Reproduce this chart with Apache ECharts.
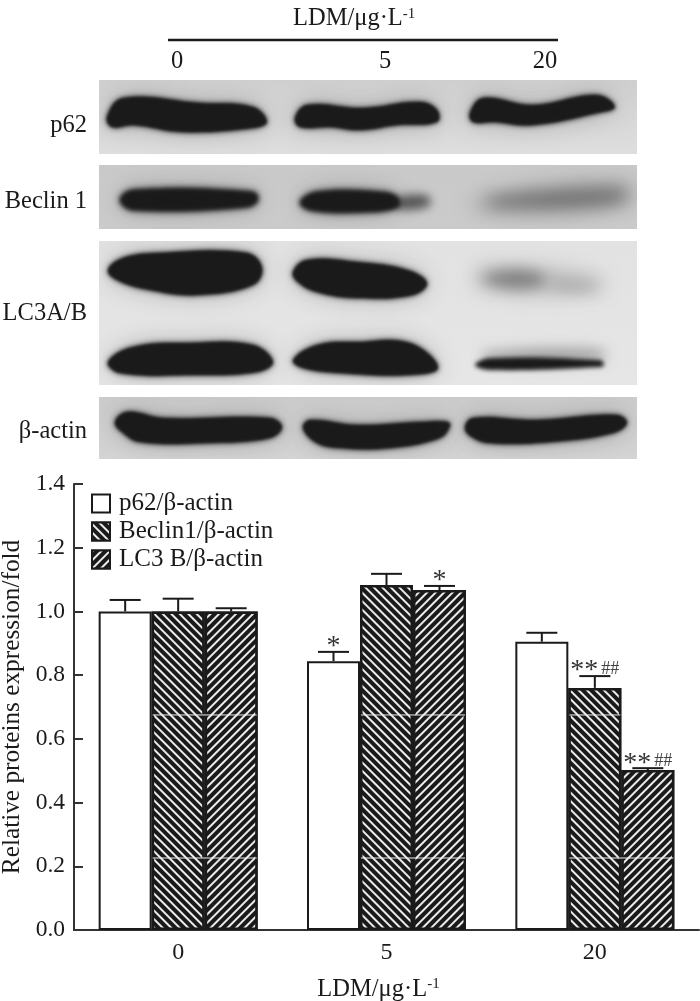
<!DOCTYPE html>
<html>
<head>
<meta charset="utf-8">
<style>
  html, body { margin: 0; padding: 0; background: #fff; }
  #mainChart { width: 700px; height: 1001px; }
</style>
<script src="https://cdn.jsdelivr.net/npm/echarts@6/dist/echarts.min.js"></script>
</head>
<body>
<div id="mainChart"></div>
<script>
const categories = ['0', '5', '20'];
const seriesNames = ['p62/β-actin', 'Beclin1/β-actin', 'LC3 B/β-actin'];
const p62Values = [1.0, 0.844, 0.905];
const beclinValues = [1.0, 1.083, 0.76];
const lc3Values = [1.0, 1.067, 0.502];
const p62ErrTop = [1.036, 0.873, 0.933];
const beclinErrTop = [1.04, 1.118, 0.797];
const lc3ErrTop = [1.01, 1.08, 0.508];
const p62Marks = ['', '*', ''];
const beclinMarks = ['', '', '**##'];
const lc3Marks = ['', '*', '**##'];
// the thin white seams running across the hatched bars: category, first bar, last bar, value
const seamRows = [
  [0, 1, 2, 0.675], [0, 1, 2, 0.226],
  [1, 1, 2, 0.675], [1, 1, 2, 0.226],
  [2, 1, 1, 0.675], [2, 1, 2, 0.226]
];

const FONT = '"Liberation Serif", "Times New Roman", serif';
const INK = '#1a1a1a';
const BAR_W = 53;
const OFF = 3000; // blot shapes sit off canvas, only their blurred shadow lands on it

const values = [p62Values, beclinValues, lc3Values];
const errTops = [p62ErrTop, beclinErrTop, lc3ErrTop];
const marks = [p62Marks, beclinMarks, lc3Marks];

function hatch(rotation) {
  return {
    symbol: 'rect',
    symbolSize: 1,
    dashArrayX: [1, 0],
    dashArrayY: [2, 4],
    rotation: rotation,
    color: '#ececec'
  };
}

// the blot panels are a photograph in the original, so they are only painted here
function panel(x, y, w, h, top, bottom) {
  return {
    type: 'rect', silent: true, z: 1,
    shape: { x: x, y: y, width: w, height: h },
    style: {
      fill: new echarts.graphic.LinearGradient(0, 0, 0, 1, [
        { offset: 0, color: top }, { offset: 1, color: bottom }
      ])
    }
  };
}
function blurred(points, color, blur) {
  return {
    type: 'polygon', silent: true, z: 2,
    shape: { points: points.map(function (p) { return [p[0] - OFF, p[1]]; }), smooth: 0.4 },
    style: { fill: '#000', shadowColor: color, shadowBlur: blur, shadowOffsetX: OFF }
  };
}
function band(points, color, blur) {
  return [
    blurred(points, 'rgba(40,40,40,0.28)', 26),
    blurred(points, color || INK, blur || 6),
    blurred(points, color || INK, (blur || 6) / 2)
  ];
}
// keeps the blur inside the panels
function mask(x, y, w, h) {
  return {
    type: 'rect', silent: true, z: 3,
    shape: { x: x, y: y, width: w, height: h },
    style: { fill: '#fff' }
  };
}
function label(text, x, y, align) {
  return {
    type: 'text', silent: true, z: 4, x: x, y: y,
    style: {
      text: text, fill: INK, align: align, verticalAlign: 'middle',
      font: '24.5px ' + FONT
    }
  };
}

const blots = [].concat(
  panel(99, 80, 538, 74, '#cfcfcf', '#dedede'),
  panel(99, 165, 538, 64, '#c9c9c9', '#cbcbcb'),
  panel(99, 241, 538, 144, '#e2e2e2', '#e6e6e6'),
  panel(99, 397, 538, 62, '#cbcbcb', '#d4d4d4'),

  // p62
  band([[107,117],[123,98],[200,103],[253,107],[267,122],[253,128],[183,132],[133,125],[112,127]]),
  band([[295,118],[307,105],[363,108],[420,102],[437,110],[437,122],[397,125],[360,130],[330,127],[300,127]]),
  band([[470,113],[483,98],[533,105],[597,95],[615,107],[597,113],[533,125],[493,122],[473,122]]),

  // Beclin 1
  band([[120,200],[133,190],[253,192],[258,200],[247,207],[133,210]], INK, 9),
  blurred([[397,198],[425,195],[431,203],[420,209],[397,208]], '#555', 10),
  band([[300,202],[317,192],[380,192],[397,197],[398,207],[363,212],[310,210]], INK, 9),
  blurred([[483,202],[513,195],[613,189],[627,193],[613,203],[513,207]], 'rgba(110,110,110,0.9)', 16),
  blurred([[470,205],[513,190],[630,183],[630,205],[513,215]], 'rgba(90,90,90,0.35)', 22),

  // LC3A/B upper
  band([[108,270],[123,258],[157,253],[247,253],[262,268],[253,285],[197,295],[150,290],[117,280]]),
  band([[293,272],[307,260],[357,262],[407,270],[427,283],[413,295],[357,298],[317,292],[298,282]]),
  blurred([[480,266],[600,276],[600,292],[480,290]], 'rgba(150,150,150,0.45)', 20),
  blurred([[482,278],[515,270],[545,276],[545,284],[510,288]], '#808080', 14),
  blurred([[545,280],[590,282],[598,288],[560,290]], '#adadad', 14),

  // LC3A/B lower
  band([[108,362],[133,347],[190,343],[253,345],[273,362],[257,372],[190,375],[120,373]]),
  band([[293,360],[317,345],[357,342],[410,343],[438,368],[407,375],[340,373],[303,368]]),
  blurred([[485,353],[600,350],[604,360],[485,362]], 'rgba(120,120,120,0.7)', 14),
  blurred([[475,365],[490,358],[600,360],[604,365],[600,367],[490,370]], INK, 4),

  // β-actin
  band([[115,422],[127,412],[163,418],[270,418],[282,427],[270,438],[207,443],[140,442],[122,432]]),
  band([[303,428],[310,420],[357,425],[423,422],[448,422],[450,426],[440,438],[390,448],[340,448],[317,443]]),
  band([[465,428],[473,418],[537,420],[617,415],[627,423],[613,433],[550,442],[490,443],[472,437]]),

  mask(0, 60, 99, 410),
  mask(637, 60, 63, 410),
  mask(99, 60, 538, 20),
  mask(99, 154, 538, 11),
  mask(99, 229, 538, 12),
  mask(99, 385, 538, 12),
  mask(99, 459, 538, 15),

  // header above the blots
  {
    type: 'line', silent: true, z: 4,
    shape: { x1: 168, y1: 40, x2: 558, y2: 40 },
    style: { stroke: INK, lineWidth: 2.5 }
  },
  {
    type: 'text', silent: true, z: 4, x: 293, y: 19,
    style: {
      text: 'LDM/μg·L{sup|-1}', fill: INK, align: 'left', verticalAlign: 'middle',
      font: '24.5px ' + FONT,
      rich: { sup: { font: '15px ' + FONT, fill: INK, verticalAlign: 'top', padding: [0, 0, 10, 0] } }
    }
  },
  label('0', 177, 62, 'center'),
  label('5', 385, 62, 'center'),
  label('20', 545, 62, 'center'),

  label('p62', 87, 126, 'right'),
  label('Beclin 1', 87, 202, 'right'),
  label('LC3A/B', 87, 314, 'right'),
  label('β-actin', 87, 432, 'right')
);

const errData = [];
const markData = [];
values.forEach(function (row, s) {
  row.forEach(function (v, c) {
    errData.push([c, s, v, errTops[s][c]]);
    if (marks[s][c]) markData.push([c, s, errTops[s][c], marks[s][c]]);
  });
});

const chart = echarts.init(document.getElementById('mainChart'));
const option = {
  animation: false,
  textStyle: { fontFamily: FONT },
  graphic: { elements: blots },
  grid: { left: 74, top: 484, width: 625, height: 446, outerBoundsMode: 'none' },
  legend: {
    data: seriesNames,
    orient: 'vertical',
    left: 91,
    top: 491,
    padding: 0,
    icon: 'rect',
    itemWidth: 18,
    itemHeight: 18,
    itemGap: 3,
    itemStyle: { borderColor: INK, borderWidth: 2 },
    textStyle: { fontFamily: FONT, fontSize: 25, color: INK, padding: [0, 0, 0, 4] }
  },
  xAxis: {
    type: 'category',
    data: categories,
    name: 'LDM/μg·L{sup|-1}',
    nameLocation: 'middle',
    nameGap: 47,
    nameTextStyle: {
      fontFamily: FONT, fontSize: 24.5, color: INK, padding: [0, 16, 0, 0],
      rich: { sup: { fontFamily: FONT, fontSize: 15, color: INK, padding: [0, 0, 10, 0] } }
    },
    axisLine: { lineStyle: { color: '#333', width: 2 } },
    axisTick: { show: false },
    axisLabel: { fontFamily: FONT, fontSize: 24, color: INK, margin: 11 }
  },
  yAxis: {
    type: 'value',
    min: 0,
    max: 1.4,
    interval: 0.2,
    name: 'Relative proteins expression/fold',
    nameLocation: 'middle',
    nameGap: 44,
    nameTextStyle: { fontFamily: FONT, fontSize: 25.3, color: INK },
    axisLine: { show: true, lineStyle: { color: '#333', width: 2 } },
    axisTick: { show: true, inside: true, length: 9, lineStyle: { color: '#333', width: 2 } },
    axisLabel: {
      fontFamily: FONT, fontSize: 23.5, color: INK, margin: 9,
      formatter: function (v) { return v.toFixed(1); }
    },
    splitLine: { show: false }
  },
  series: [
    {
      name: seriesNames[0], type: 'bar', data: p62Values, barWidth: BAR_W, barGap: 0,
      itemStyle: { color: '#fff', borderColor: INK, borderWidth: 2 }
    },
    {
      name: seriesNames[1], type: 'bar', data: beclinValues, barWidth: BAR_W, barGap: 0,
      itemStyle: { color: INK, borderColor: INK, borderWidth: 2.5, decal: hatch(Math.PI / 4) }
    },
    {
      name: seriesNames[2], type: 'bar', data: lc3Values, barWidth: BAR_W, barGap: 0,
      itemStyle: { color: INK, borderColor: INK, borderWidth: 2.5, decal: hatch(-Math.PI / 4) }
    },
    {
      // error bars, only the upper half is drawn
      type: 'custom', data: errData, z: 5, silent: true,
      renderItem: function (params, api) {
        const base = api.coord([api.value(0), api.value(2)]);
        const top = api.coord([api.value(0), api.value(3)]);
        const x = base[0] + (api.value(1) - 1) * BAR_W;
        const line = { stroke: INK, lineWidth: 2 };
        return {
          type: 'group',
          children: [
            { type: 'line', shape: { x1: x, y1: base[1], x2: x, y2: top[1] }, style: line },
            { type: 'line', shape: { x1: x - 15.5, y1: top[1], x2: x + 15.5, y2: top[1] }, style: line }
          ]
        };
      }
    },
    {
      type: 'custom', data: seamRows, z: 6, silent: true,
      renderItem: function (params, api) {
        const p = api.coord([api.value(0), api.value(3)]);
        const x1 = p[0] + (api.value(1) - 1.5) * BAR_W + 1;
        const x2 = p[0] + (api.value(2) - 0.5) * BAR_W - 1;
        return {
          type: 'line',
          shape: { x1: x1, y1: p[1], x2: x2, y2: p[1] },
          style: { stroke: '#eee', lineWidth: 1 }
        };
      }
    },
    {
      // significance marks over the error bars
      type: 'custom', data: markData, z: 7, silent: true,
      renderItem: function (params, api) {
        const p = api.coord([api.value(0), api.value(2)]);
        const mark = markData[params.dataIndex][3];
        const stars = mark.replace(/#/g, '');
        const hashes = mark.replace(/\*/g, '');
        return {
          type: 'text',
          x: p[0] + (api.value(1) - 1) * BAR_W,
          y: p[1] + 7,
          style: {
            text: '{s|' + stars + '}' + (hashes ? '{h|' + hashes + '}' : ''),
            align: 'center',
            verticalAlign: 'bottom',
            rich: {
              s: { font: '28px "Liberation Serif"', fill: '#333', lineHeight: 24 },
              h: { font: '18px "Liberation Serif"', fill: '#444', lineHeight: 24, padding: [0, 0, 4, 3] }
            }
          }
        };
      }
    }
  ]
};
chart.setOption(option);
</script>
</body>
</html>
